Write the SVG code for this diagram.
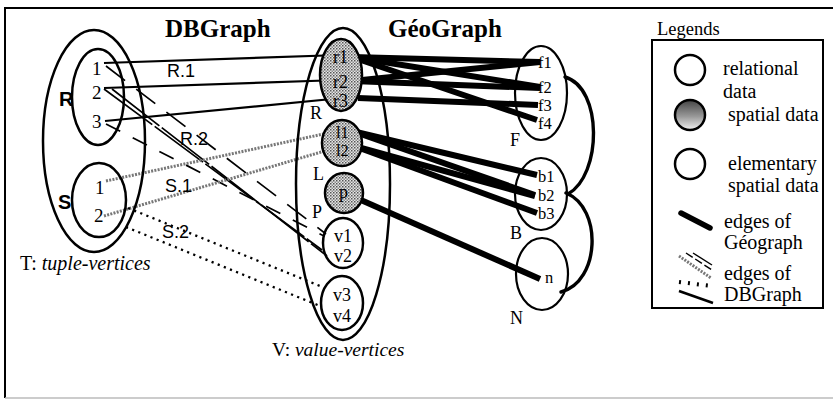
<svg xmlns="http://www.w3.org/2000/svg" width="833" height="402" viewBox="0 0 833 402">
  <style>
    .serif { font-family: "Liberation Serif", "Times New Roman", serif; fill: #000; }
    .sans { font-family: "Liberation Sans", Arial, sans-serif; fill: #000; }
    .title { font-size: 25px; font-weight: bold; }
    .num { font-size: 19px; }
    .lbl { font-size: 18px; }
    .small { font-size: 16.5px; }
    .leg { font-size: 20px; }
    .rel { fill: none; stroke: #000; stroke-width: 2.5; }
    .spat { fill: url(#stipple); stroke: #000; stroke-width: 2.5; }
    .elem { fill: none; stroke: #000; stroke-width: 2.2; }
    .geo { stroke: #000; stroke-width: 6; fill: none; }
    .arc { stroke: #000; stroke-width: 3.4; fill: none; stroke-linecap: round; }
    .e-solid { stroke: #000; stroke-width: 2.2; fill: none; }
    .e-dash { stroke: #000; stroke-width: 1.7; fill: none; }
    .e-stip { stroke: #777; stroke-width: 3; fill: none; stroke-dasharray: 2 1.3; }
    .e-dot { stroke: #000; stroke-width: 2.3; fill: none; stroke-dasharray: 2.2 4.4; }
  </style>
  <defs>
    <pattern id="stipple" width="3" height="3" patternUnits="userSpaceOnUse">
      <rect width="3" height="3" fill="#e6e6e6"/>
      <rect width="1.5" height="1.5" fill="#555"/>
      <rect x="1.5" y="1.5" width="1.5" height="1.5" fill="#8c8c8c"/>
    </pattern>
    <linearGradient id="fade" x1="0" y1="0" x2="0" y2="1">
      <stop offset="0" stop-color="#444"/>
      <stop offset="0.55" stop-color="#999"/>
      <stop offset="1" stop-color="#f2f2f2"/>
    </linearGradient>
  </defs>

  <rect width="833" height="402" fill="#fff"/>

  <!-- frame -->
  <g id="frame" fill="none">
    <line x1="5" y1="8" x2="833" y2="8" stroke="#000" stroke-width="2"/>
    <line x1="5" y1="7" x2="5" y2="398" stroke="#000" stroke-width="2"/>
    <line x1="5" y1="398" x2="833" y2="398" stroke="#bbb" stroke-width="1.5"/>
  </g>

  <!-- titles -->
  <text class="serif title" x="165" y="37">DBGraph</text>
  <text class="serif title" x="388" y="37">GéoGraph</text>

  <!-- connectors -->
  <g id="connectors">
    <!-- R.1 : tuples to spatial values -->
    <line class="e-solid" x1="104" y1="63" x2="340" y2="55"/>
    <line class="e-solid" x1="104" y1="88" x2="340" y2="80"/>
    <line class="e-solid" x1="105" y1="121" x2="342" y2="98"/>
    <!-- R.2 : tuples to v1 / v2 -->
    <line class="e-dash" x1="106" y1="66" x2="326" y2="234" stroke-dasharray="24 14"/>
    <line class="e-dash" x1="104" y1="89" x2="322" y2="250" stroke-dasharray="60 3"/>
    <line class="e-dash" x1="112" y1="89" x2="327" y2="256" stroke-dasharray="60 3"/>
    <line class="e-dash" x1="106" y1="124" x2="324" y2="236" stroke-dasharray="16 14"/>
    <!-- S.1 : S tuples to l1 / l2 -->
    <line class="e-stip" x1="106" y1="181" x2="328" y2="133"/>
    <line class="e-stip" x1="104" y1="216" x2="328" y2="150"/>
    <!-- S.2 : S tuples to v3 / v4 -->
    <line class="e-dot" x1="128" y1="208" x2="320" y2="286"/>
    <line class="e-dot" x1="126" y1="227" x2="320" y2="306"/>

    <!-- GéoGraph edges -->
    <line class="geo" x1="352" y1="57" x2="540" y2="62"/>
    <line class="geo" x1="352" y1="57" x2="540" y2="87"/>
    <line class="geo" x1="352" y1="57" x2="537" y2="120"/>
    <line class="geo" x1="352" y1="81" x2="540" y2="62"/>
    <line class="geo" x1="352" y1="81" x2="540" y2="88"/>
    <line class="geo" x1="358" y1="98" x2="538" y2="105"/>
    <line class="geo" x1="352" y1="131" x2="537" y2="175"/>
    <line class="geo" x1="352" y1="131" x2="535" y2="195"/>
    <line class="geo" x1="354" y1="146" x2="535" y2="196"/>
    <line class="geo" x1="354" y1="146" x2="537" y2="213"/>
    <line class="geo" x1="345" y1="193" x2="540" y2="279"/>
    <!-- F - B - N adjacency -->
    <path class="arc" d="M565,77 C603,88 602,175 568,194"/>
    <path class="arc" d="M566,193 C603,208 600,282 561,292"/>
  </g>

  <!-- T : tuple vertices -->
  <g id="tuple-vertices">
    <ellipse class="rel" cx="94" cy="141" rx="51" ry="111"/>
    <text class="serif" x="20" y="270" font-size="20">T: <tspan font-style="italic">tuple-vertices</tspan></text>
  </g>
  <g id="node-R">
    <ellipse class="rel" cx="98" cy="97" rx="26" ry="48"/>
    <text class="sans" x="59" y="106" font-size="20" font-weight="bold">R</text>
    <text class="serif num" x="92" y="75">1</text>
    <text class="serif num" x="92" y="99">2</text>
    <text class="serif num" x="92" y="128">3</text>
  </g>
  <g id="node-S">
    <ellipse class="rel" cx="99" cy="200" rx="27" ry="37"/>
    <text class="sans" x="58" y="209" font-size="20" font-weight="bold">S</text>
    <text class="serif num" x="95" y="194">1</text>
    <text class="serif num" x="94" y="222">2</text>
  </g>

  <!-- edge labels -->
  <g id="edge-labels">
    <text class="sans" x="167" y="77" font-size="18">R.1</text>
    <text class="sans" x="180" y="145" font-size="18">R.2</text>
    <text class="sans" x="165" y="192" font-size="18">S.1</text>
    <text class="sans" x="162" y="238" font-size="18">S.2</text>
  </g>

  <!-- V : value vertices -->
  <g id="value-vertices">
    <ellipse class="rel" cx="343" cy="184" rx="47" ry="156"/>
    <text class="serif" x="272" y="356" font-size="19.5">V: <tspan font-style="italic">value-vertices</tspan></text>
  </g>
  <g id="node-r">
    <ellipse class="spat" cx="341" cy="75" rx="21" ry="36"/>
    <text class="serif lbl" x="333" y="63">r1</text>
    <text class="serif lbl" x="333" y="88">r2</text>
    <text class="serif lbl" x="333" y="107">r3</text>
    <text class="serif lbl" x="310" y="119">R</text>
  </g>
  <g id="node-l">
    <ellipse class="spat" cx="342" cy="143" rx="20" ry="23"/>
    <text class="serif small" x="336" y="138">l1</text>
    <text class="serif small" x="336" y="156">l2</text>
    <text class="serif lbl" x="313" y="180">L</text>
  </g>
  <g id="node-p">
    <ellipse class="spat" cx="344" cy="193" rx="19" ry="20"/>
    <text class="serif lbl" x="339" y="198">p</text>
    <text class="serif lbl" x="312" y="218">P</text>
  </g>
  <g id="node-v12">
    <ellipse class="rel" cx="343" cy="243" rx="20" ry="25"/>
    <text class="serif lbl" x="334" y="242">v1</text>
    <text class="serif lbl" x="334" y="262">v2</text>
  </g>
  <g id="node-v34">
    <ellipse class="rel" cx="342" cy="303" rx="21" ry="27"/>
    <text class="serif lbl" x="333" y="301">v3</text>
    <text class="serif lbl" x="333" y="322">v4</text>
  </g>

  <!-- elementary spatial data -->
  <g id="node-F">
    <ellipse class="elem" cx="541" cy="93" rx="26" ry="47"/>
    <text class="serif small" x="538" y="68">f1</text>
    <text class="serif small" x="538" y="93">f2</text>
    <text class="serif small" x="538" y="111">f3</text>
    <text class="serif small" x="538" y="129">f4</text>
    <text class="serif lbl" x="510" y="146">F</text>
  </g>
  <g id="node-B">
    <ellipse class="elem" cx="541" cy="194" rx="26" ry="36"/>
    <text class="serif small" x="538" y="182">b1</text>
    <text class="serif small" x="538" y="201">b2</text>
    <text class="serif small" x="538" y="219">b3</text>
    <text class="serif lbl" x="510" y="239">B</text>
  </g>
  <g id="node-N">
    <ellipse class="elem" cx="542" cy="274" rx="26" ry="36"/>
    <text class="serif small" x="545" y="283">n</text>
    <text class="serif lbl" x="510" y="324">N</text>
  </g>

  <!-- legend -->
  <g id="legend">
    <text class="serif" x="657" y="35" font-size="18.5">Legends</text>
    <rect x="652" y="40" width="171" height="268" fill="none" stroke="#000" stroke-width="2"/>
    <circle cx="690" cy="70" r="15" fill="none" stroke="#000" stroke-width="2.5"/>
    <text class="serif leg" x="723" y="75">relational</text>
    <text class="serif leg" x="723" y="98">data</text>
    <circle cx="690" cy="115" r="15" fill="url(#fade)" stroke="#000" stroke-width="2.5"/>
    <text class="serif leg" x="728" y="121">spatial data</text>
    <circle cx="690" cy="164" r="15" fill="none" stroke="#000" stroke-width="2.5"/>
    <text class="serif leg" x="728" y="170">elementary</text>
    <text class="serif leg" x="728" y="192">spatial data</text>
    <line x1="681" y1="213" x2="710" y2="228" stroke="#000" stroke-width="5.5" stroke-linecap="round"/>
    <text class="serif leg" x="724" y="228">edges of</text>
    <text class="serif leg" x="724" y="249">Géograph</text>
    <line x1="679" y1="256" x2="711" y2="278" class="e-stip" stroke-width="2"/>
    <line x1="686" y1="253" x2="712" y2="270" stroke="#000" stroke-width="1.4" stroke-dasharray="8 3"/>
    <line x1="693" y1="253" x2="712" y2="265" stroke="#000" stroke-width="1.4"/>
    <line x1="679" y1="282" x2="712" y2="286" stroke="#000" stroke-width="4" stroke-dasharray="2 7"/>
    <line x1="679" y1="291" x2="713" y2="303" stroke="#000" stroke-width="2.6"/>
    <text class="serif leg" x="724" y="280">edges of</text>
    <text class="serif leg" x="724" y="301">DBGraph</text>
  </g>
</svg>
